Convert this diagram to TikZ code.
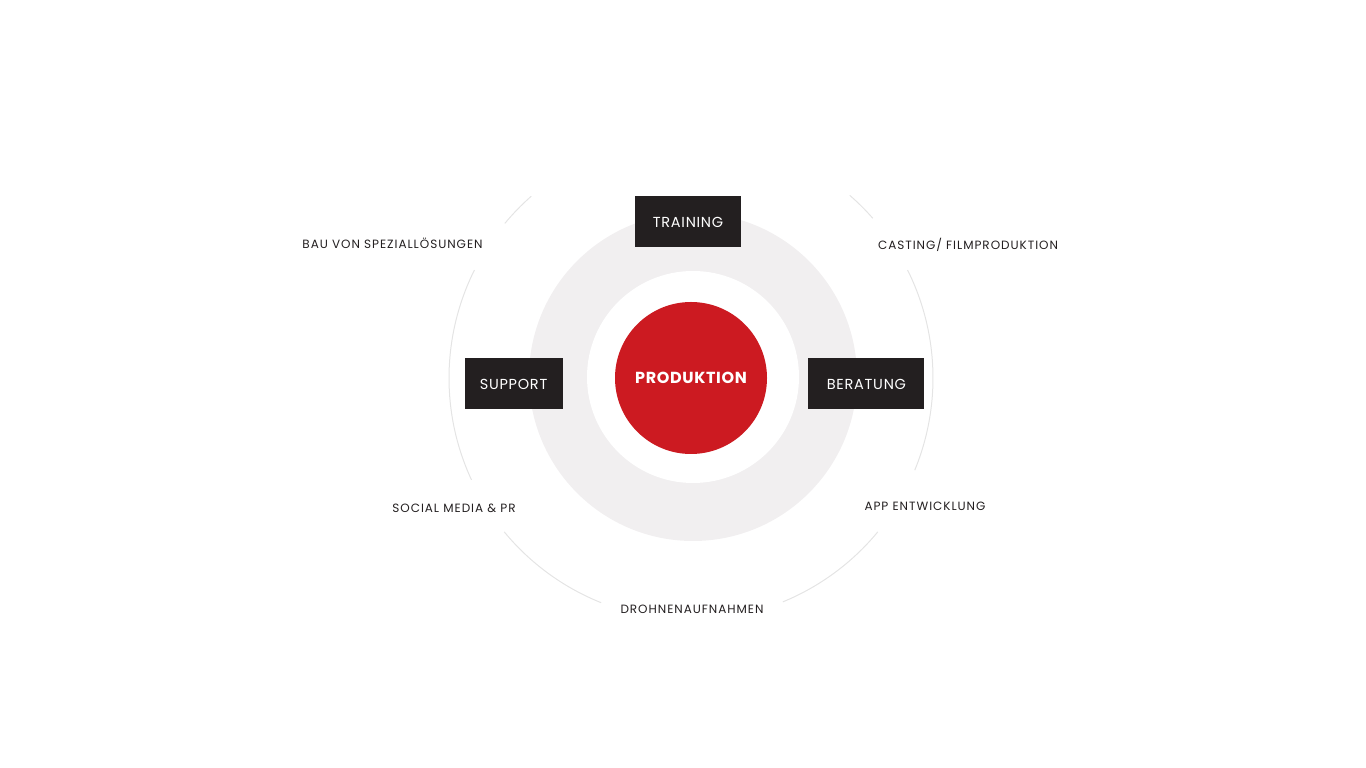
\documentclass[tikz,border=0pt]{standalone}
\usepackage{fontspec}
\setmainfont{Poppins}
\newfontfamily\fieldfont[LetterSpace=8]{Poppins}
\newfontfamily\servicefont[LetterSpace=5]{Poppins}
\newfontfamily\corefont[LetterSpace=4]{Poppins}
\usetikzlibrary{positioning}
\definecolor{brandred}{HTML}{CC1A21}
\definecolor{ink}{HTML}{231F20}
\definecolor{ringgray}{HTML}{F1EFF0}
\definecolor{hairline}{HTML}{E4E4E4}

\begin{document}
\begin{tikzpicture}[x=1pt, y=1pt, node distance=40pt]
  \tikzstyle{core} = [circle, fill=brandred, text=white, minimum size=152pt, inner sep=0pt, font=\corefont\fontsize{16}{18}\selectfont\bfseries]
  \tikzstyle{service} = [rectangle, fill=ink, text=white, minimum height=51pt, inner sep=0pt, text height=13pt, text depth=0pt, font=\servicefont\fontsize{14.5}{16}\selectfont]
  \tikzstyle{field} = [text=ink, inner sep=0pt, font=\fieldfont\fontsize{12}{14}\selectfont]
  \tikzstyle{hair} = [draw=hairline, line width=1pt]

  \useasboundingbox (0,0) rectangle (1366,768);
  \coordinate (mid) at (691,390);

  % grey ring behind the core
  \fill [ringgray] (693,391) circle (164);
  \fill [white] (693,391) circle (106);

  % thin outer circle, broken at the labels
  \foreach \a/\b in {131.3/140.3, 153.5/204.9, 219.5/248.2, 292.3/320.5, 337.6/386.5, 41.3/49}
    \draw [hair] (mid) ++(\a:242) arc [start angle=\a, end angle=\b, radius=242];

  \node [core] (core) at (mid) {PRODUKTION};
  \node [service, minimum width=106pt, above=55pt of core, xshift=-3pt] (training) {TRAINING};
  \node [service, minimum width=116pt, right=41pt of core, yshift=-5.5pt] (beratung) {BERATUNG};
  \node [service, minimum width=98pt, left=52pt of core, yshift=-5.5pt] (support) {SUPPORT};

  \node [field] (bau) at (392.5,524.5) {BAU VON SPEZIALLÖSUNGEN};
  \node [field] (casting) at (968,523.5) {CASTING/ FILMPRODUKTION};
  \node [field] (social) at (454,259.5) {SOCIAL MEDIA \& PR};
  \node [field] (app) at (925,261.5) {APP ENTWICKLUNG};
  \node [field] (drohne) at (692,158.5) {DROHNENAUFNAHMEN};
\end{tikzpicture}
\end{document}
